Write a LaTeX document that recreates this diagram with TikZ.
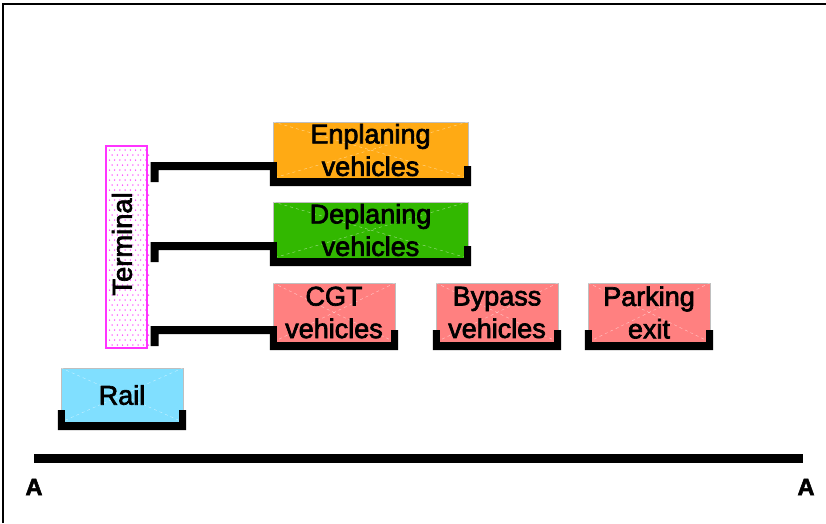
\documentclass[tikz,border=0pt]{standalone}
\usepackage{fontspec}
\setmainfont{Liberation Sans}[FakeBold=2.5]
\usetikzlibrary{calc}
\definecolor{enpc}{RGB}{255,170,20}
\definecolor{depc}{RGB}{50,184,0}
\definecolor{pinkc}{RGB}{255,128,128}
\definecolor{railc}{RGB}{128,223,255}
\definecolor{magc}{RGB}{255,51,255}
\pgfdeclarelayer{bg}
\pgfdeclarelayer{mid}
\pgfsetlayers{bg,mid,main}
\begin{document}
\begin{tikzpicture}[x=1pt,y=-1pt,
  box/.style={rectangle, inner sep=0pt, align=center,
    font=\fontsize{27}{32.5}\selectfont},
  diag/.style={white, dashed, opacity=0.55, line width=0.4pt},
  curb/.style={fill=black}]
\useasboundingbox (0,0) rectangle (826,523);
% frame
\draw[line width=2pt] (3,523) -- (3,4) -- (826,4);

% terminal
\node[rectangle, draw=magc, line width=1.2pt, fill=white,
  minimum width=41, minimum height=202, inner sep=0pt] (term) at (126.5,247) {};
\foreach \r in {0,...,39} {
  \foreach \c in {0,...,7} {
    \pgfmathsetmacro{\dx}{109.5+5.2*\c+2.6*mod(\r,2)}
    \pgfmathsetmacro{\dy}{150+5*\r}
    \fill[magc] (\dx,\dy) circle (0.75);
  }
}
\node[rotate=90, font=\fontsize{27.3}{32}\selectfont] (termtxt) at (122,244) {Terminal};

% boxes (text); fills and curbs are put on lower layers
\node[box, minimum width=195, minimum height=56] (enp) at (370.5,150) {Enplaning\\vehicles};
\node[box, minimum width=195, minimum height=56] (dep) at (370.5,230) {Deplaning\\vehicles};
\node[box, minimum width=122, minimum height=59] (cgt) at (334,312.5) {CGT\\vehicles};
\node[box, minimum width=122, minimum height=59] (byp) at (497,312.5) {Bypass\\vehicles};
\node[box, minimum width=122, minimum height=59] (park) at (649,312.5) {Parking\\exit};
\node[box, minimum width=122, minimum height=54] (rail) at (122,395) {Rail};

\foreach \n/\col in {enp/enpc,dep/depc,cgt/pinkc,byp/pinkc,park/pinkc,rail/railc} {
  \begin{pgfonlayer}{bg}
    \fill[\col, draw=black!25, line width=0.5pt] (\n.north west) rectangle (\n.south east);
    \draw[diag] (\n.north west) -- (\n.south east);
    \draw[diag] (\n.north east) -- (\n.south west);
  \end{pgfonlayer}
  \begin{pgfonlayer}{mid}
    \fill[curb] ($(\n.south west)+(-3,-12)$) -- ($(\n.south west)+(-3,8)$)
      -- ($(\n.south east)+(3,8)$) -- ($(\n.south east)+(3,-12)$)
      -- ($(\n.south east)+(-4,-12)$) -- ($(\n.south east)+(-4,0)$)
      -- ($(\n.south west)+(4,0)$) -- ($(\n.south west)+(4,-12)$) -- cycle;
  \end{pgfonlayer}
}

% connectors from terminal
\begin{pgfonlayer}{mid}
\foreach \n in {enp,dep,cgt} {
  \fill[curb] ($(term.east |- \n.south)+(3,-16)$) -- ($(\n.south west)+(4,-16)$)
    -- ($(\n.south west)+(4,-8)$) -- ($(term.east |- \n.south)+(11,-8)$)
    -- ($(term.east |- \n.south)+(11,4)$) -- ($(term.east |- \n.south)+(3,4)$) -- cycle;
}
\end{pgfonlayer}

% section line A-A
\node[font=\fontsize{23.5}{28}\selectfont\bfseries] (al) at (34,487) {A};
\node[font=\fontsize{23.5}{28}\selectfont\bfseries] (ar) at (806,487) {A};
\coordinate (l1) at (34,454);
\coordinate (l2) at (803,463);
\fill (l1) rectangle (l2);
\end{tikzpicture}
\end{document}
